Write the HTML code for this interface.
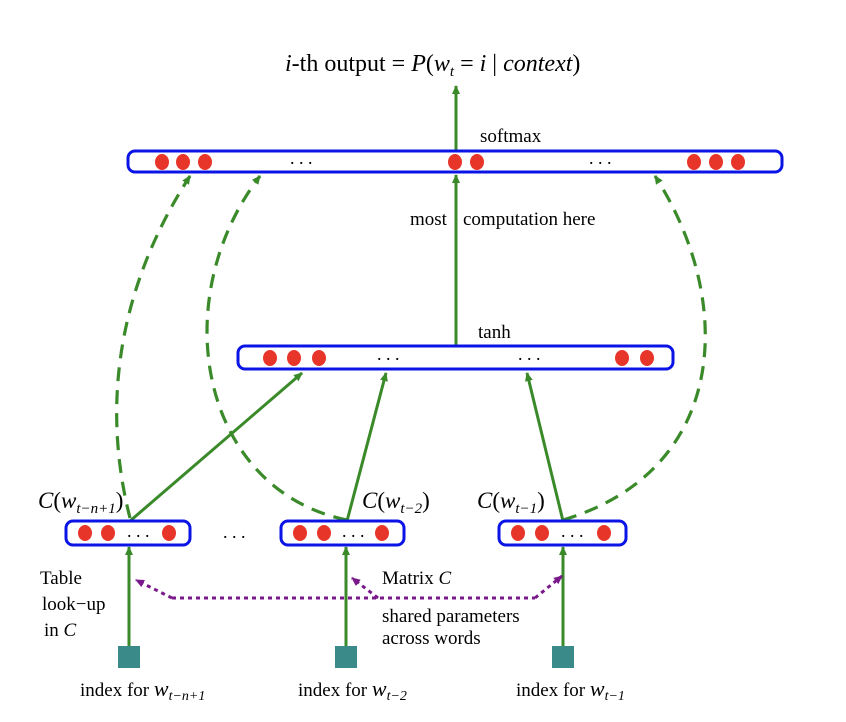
<!DOCTYPE html>
<html><head><meta charset="utf-8"><style>
html,body{margin:0;padding:0;background:#fff}
svg{display:block}
text{font-family:"Liberation Serif",serif;fill:#000}
</style></head><body>
<svg width="846" height="722" viewBox="0 0 846 722" xmlns="http://www.w3.org/2000/svg">
<defs>
<marker id="ag" markerWidth="10" markerHeight="10" refX="8" refY="5" orient="auto" markerUnits="userSpaceOnUse"><path d="M0,1 L9,5 L0,9 z" fill="#3a8a2a"/></marker>
<marker id="ap" markerWidth="10" markerHeight="10" refX="8" refY="5" orient="auto" markerUnits="userSpaceOnUse"><path d="M0,1 L9,5 L0,9 z" fill="#7a1a8a"/></marker>
</defs>
<text x="285" y="71" font-size="24"><tspan font-style="italic">i</tspan>-th output = <tspan font-style="italic">P</tspan>(<tspan font-style="italic">w</tspan><tspan font-style="italic" font-size="15" dy="5">t</tspan><tspan dy="-5"> = </tspan><tspan font-style="italic">i</tspan> | <tspan font-style="italic">context</tspan>)</text>
<g stroke="#3a8a2a" stroke-width="3" fill="none">
<line x1="456" y1="151" x2="456" y2="86" marker-end="url(#ag)"/>
<line x1="456" y1="346" x2="456" y2="175" marker-end="url(#ag)"/>
<line x1="130" y1="521" x2="302" y2="373" marker-end="url(#ag)"/>
<line x1="347" y1="521" x2="386" y2="373" marker-end="url(#ag)"/>
<line x1="563" y1="521" x2="527" y2="373" marker-end="url(#ag)"/>
<line x1="129" y1="646" x2="129" y2="547" marker-end="url(#ag)"/>
<line x1="346" y1="646" x2="346" y2="547" marker-end="url(#ag)"/>
<line x1="563" y1="646" x2="563" y2="547" marker-end="url(#ag)"/>
</g>
<g stroke="#3a8a2a" stroke-width="3.2" fill="none" stroke-dasharray="14,9">
<path d="M130,518 C105,420 110,300 190,176" marker-end="url(#ag)"/>
<path d="M347,520 C200,490 165,300 260,176" marker-end="url(#ag)"/>
<path d="M563,520 C730,470 735,300 655,176" marker-end="url(#ag)"/>
</g>
<g stroke="#0a14e6" stroke-width="3" fill="#fff">
<rect x="128" y="151" width="654" height="21" rx="7"/>
<rect x="238" y="346" width="435" height="23" rx="7"/>
<rect x="66" y="521" width="124" height="24" rx="7"/>
<rect x="281" y="521" width="123" height="24" rx="7"/>
<rect x="499" y="521" width="127" height="24" rx="7"/>
</g>
<g fill="#e8352a">
<ellipse cx="162" cy="162" rx="7" ry="8"/><ellipse cx="183" cy="162" rx="7" ry="8"/><ellipse cx="205" cy="162" rx="7" ry="8"/>
<ellipse cx="455" cy="162" rx="7" ry="8"/><ellipse cx="477" cy="162" rx="7" ry="8"/>
<ellipse cx="694" cy="162" rx="7" ry="8"/><ellipse cx="716" cy="162" rx="7" ry="8"/><ellipse cx="738" cy="162" rx="7" ry="8"/>
<ellipse cx="270" cy="358" rx="7" ry="8"/><ellipse cx="294" cy="358" rx="7" ry="8"/><ellipse cx="319" cy="358" rx="7" ry="8"/>
<ellipse cx="622" cy="358" rx="7" ry="8"/><ellipse cx="647" cy="358" rx="7" ry="8"/>
<ellipse cx="85" cy="533" rx="7" ry="8"/><ellipse cx="108" cy="533" rx="7" ry="8"/><ellipse cx="169" cy="533" rx="7" ry="8"/>
<ellipse cx="300" cy="533" rx="7" ry="8"/><ellipse cx="324" cy="533" rx="7" ry="8"/><ellipse cx="382" cy="533" rx="7" ry="8"/>
<ellipse cx="518" cy="533" rx="7" ry="8"/><ellipse cx="542" cy="533" rx="7" ry="8"/><ellipse cx="604" cy="533" rx="7" ry="8"/>
</g>
<g font-size="18">
<text x="290" y="164">. . .</text><text x="589" y="164">. . .</text>
<text x="377" y="360">. . .</text><text x="518" y="360">. . .</text>
<text x="127" y="537">. . .</text><text x="342" y="537">. . .</text><text x="561" y="537">. . .</text>
<text x="223" y="538">. . .</text>
</g>
<g font-size="19">
<text x="480" y="142">softmax</text>
<text x="478" y="338">tanh</text>
<text x="410" y="225">most</text>
<text x="463" y="225">computation here</text>
</g>
<g font-size="23">
<text x="38" y="508"><tspan font-style="italic">C</tspan>(<tspan font-style="italic">w</tspan><tspan font-style="italic" font-size="15" dy="5">t−n+1</tspan><tspan dy="-5">)</tspan></text>
<text x="362" y="508"><tspan font-style="italic">C</tspan>(<tspan font-style="italic">w</tspan><tspan font-style="italic" font-size="15" dy="5">t−2</tspan><tspan dy="-5">)</tspan></text>
<text x="477" y="508"><tspan font-style="italic">C</tspan>(<tspan font-style="italic">w</tspan><tspan font-style="italic" font-size="15" dy="5">t−1</tspan><tspan dy="-5">)</tspan></text>
</g>
<g stroke="#7a1a8a" stroke-width="3" fill="none" stroke-dasharray="4,4">
<path d="M172,598 L136,580" marker-end="url(#ap)"/>
<path d="M172,598 L535,598"/>
<path d="M378,598 L352,578" marker-end="url(#ap)"/>
<path d="M535,598 L562,576" marker-end="url(#ap)"/>
</g>
<g font-size="19">
<text x="40" y="584">Table</text>
<text x="42" y="610">look−up</text>
<text x="44" y="636">in <tspan font-style="italic">C</tspan></text>
<text x="382" y="584">Matrix <tspan font-style="italic">C</tspan></text>
<text x="382" y="622">shared parameters</text>
<text x="382" y="644">across words</text>
</g>
<g fill="#3a8a8a">
<rect x="118" y="646" width="22" height="22"/>
<rect x="335" y="646" width="22" height="22"/>
<rect x="552" y="646" width="22" height="22"/>
</g>
<g font-size="19">
<text x="80" y="696">index for <tspan font-style="italic" font-size="22">w</tspan><tspan font-style="italic" font-size="14" dy="4">t−n+1</tspan></text>
<text x="298" y="696">index for <tspan font-style="italic" font-size="22">w</tspan><tspan font-style="italic" font-size="14" dy="4">t−2</tspan></text>
<text x="516" y="696">index for <tspan font-style="italic" font-size="22">w</tspan><tspan font-style="italic" font-size="14" dy="4">t−1</tspan></text>
</g>
</svg>
</body></html>
